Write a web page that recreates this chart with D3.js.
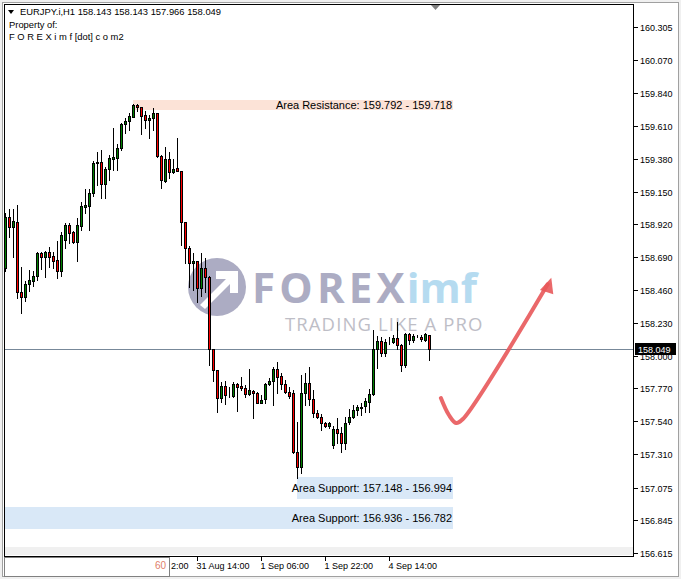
<!DOCTYPE html>
<html><head><meta charset="utf-8">
<script src="https://cdn.jsdelivr.net/npm/d3@7/dist/d3.min.js"></script>
<style>html,body{margin:0;padding:0;background:#f0f0f0;overflow:hidden}</style>
</head><body><svg id="c" width="681" height="579"></svg>
<script>
// ---- data ----
const symbol = "EURJPY.i,H1";
const lastOHLC = [158.143, 158.143, 157.966, 158.049];
const opens = [158.612,158.970,158.902,158.935,158.444,158.413,158.502,158.525,158.558,158.717,
158.694,158.727,158.698,158.670,158.595,158.811,158.916,158.867,158.799,158.911,
159.044,159.051,159.138,159.348,159.359,159.201,159.308,159.378,159.387,159.453,
159.621,159.644,159.675,159.757,159.741,159.687,159.649,159.663,159.698,159.401,
159.226,159.378,159.285,159.313,159.292,158.935,158.752,158.652,158.663,158.472,
158.612,158.553,158.045,157.900,157.701,157.787,157.722,157.720,157.799,157.787,
157.771,157.731,157.752,157.741,157.670,157.694,157.799,157.823,157.905,157.858,
157.799,157.748,157.736,157.323,157.222,157.736,157.806,157.694,157.596,157.572,
157.526,157.507,157.374,157.484,157.456,157.386,157.537,157.572,157.619,157.631,
157.647,157.677,157.731,158.045,158.105,158.017,158.094,158.098,158.122,158.075,
157.935,158.152,158.110,158.135,158.133,158.110,158.143];
const highs = [158.998,159.026,159.028,159.056,158.623,158.525,158.600,158.595,158.729,158.729,
158.736,158.759,158.729,158.806,158.869,158.928,158.932,158.876,158.963,159.079,
159.166,159.166,159.364,159.429,159.441,159.322,159.406,159.593,159.481,159.628,
159.663,159.698,159.762,159.762,159.745,159.715,159.687,159.738,159.700,159.406,
159.464,159.425,159.378,159.523,159.294,158.937,158.771,158.717,158.666,158.717,
158.687,158.558,158.047,157.900,157.818,157.825,157.783,157.818,157.806,157.853,
157.795,157.905,157.759,157.748,157.724,157.806,157.841,157.919,157.958,157.876,
157.830,157.783,157.759,157.537,157.864,157.876,157.919,157.759,157.619,157.591,
157.537,157.537,157.507,157.561,157.502,157.572,157.624,157.654,157.654,157.666,
157.701,157.764,158.180,158.140,158.133,158.117,158.129,158.145,158.236,158.082,
158.161,158.161,158.152,158.147,158.143,158.157,158.143];
const lows = [158.593,158.830,158.691,158.406,158.301,158.385,158.455,158.488,158.530,158.605,
158.553,158.623,158.612,158.542,158.558,158.757,158.792,158.787,158.666,158.881,
158.998,158.881,159.119,159.196,159.103,159.103,159.231,159.301,159.301,159.441,
159.558,159.581,159.673,159.715,159.551,159.593,159.523,159.581,159.394,159.177,
159.219,159.247,159.278,159.292,158.776,158.647,158.483,158.460,158.374,158.418,
158.448,157.935,157.825,157.607,157.677,157.661,157.712,157.712,157.614,157.759,
157.712,157.726,157.561,157.666,157.666,157.666,157.795,157.654,157.736,157.764,
157.736,157.701,157.318,157.140,157.176,157.654,157.654,157.572,157.561,157.479,
157.502,157.491,157.351,157.390,157.327,157.344,157.521,157.561,157.584,157.584,
157.607,157.607,157.724,157.912,157.998,157.998,158.082,158.091,158.045,157.895,
157.923,158.082,158.098,158.129,158.105,158.105,157.966];
const closes = [158.970,158.904,158.944,158.444,158.413,158.502,158.530,158.558,158.722,158.694,
158.727,158.689,158.666,158.595,158.846,158.916,158.862,158.797,158.916,159.049,
159.056,159.138,159.348,159.359,159.201,159.308,159.383,159.394,159.453,159.621,
159.644,159.680,159.757,159.741,159.680,159.652,159.668,159.698,159.401,159.229,
159.378,159.285,159.308,159.294,158.935,158.752,158.647,158.666,158.472,158.612,
158.553,158.045,157.900,157.701,157.787,157.722,157.726,157.799,157.783,157.771,
157.731,157.759,157.741,157.670,157.689,157.801,157.825,157.905,157.853,157.799,
157.748,157.720,157.323,157.222,157.736,157.806,157.694,157.596,157.572,157.526,
157.507,157.526,157.484,157.456,157.386,157.530,157.572,157.619,157.638,157.643,
157.684,157.731,158.045,158.105,158.017,158.098,158.098,158.122,158.075,157.935,
158.152,158.110,158.138,158.138,158.115,158.152,158.049];
const priceTicks = [160.305,160.070,159.840,159.610,159.380,159.150,158.920,158.690,158.460,158.230,158.000,157.770,157.540,157.310,157.075,156.845,156.615];
const timeTickIndex = [32, 48, 64, 80, 96];
// first label is mostly hidden behind the period box; only its tail "2:00" shows
const timeTickLabels = ["2:00","31 Aug 14:00","1 Sep 06:00","1 Sep 22:00","4 Sep 14:00"];
const zoneLabels = ["Area Resistance: 159.792 - 159.718","Area Support: 157.148 - 156.994","Area Support: 156.936 - 156.782"];
const zoneHigh = [159.792, 157.148, 156.936];
const zoneLow = [159.718, 156.994, 156.782];
const zoneStart = [32, 73, -1];
const zoneEnd = 112;
const arrowIdx = [108.9, 110.9, 112.7, 114.4, 135.6];
const arrowPrice = [157.703, 157.584, 157.528, 157.556, 158.500];

// ---- layout ----
const W = 681, H = 579;
const PL = 4, PR = 633, PT = 4, PB = 556;
const svg = d3.select("#c");
const x = d3.scaleLinear().domain([0, opens.length - 1]).range([5.3, 5.3 + 4 * (opens.length - 1)]);
const y = d3.scaleLinear().domain([156.615, 160.305]).range([553.3, 26.7]);
const cx = i => Math.round(x(i));
const cy = v => Math.round(y(v));
const font = "'Liberation Sans', Arial, sans-serif";
const logoFont = "'Open Sans', 'DejaVu Sans', sans-serif";

// window background
svg.append("rect").attr("x",0).attr("y",0).attr("width",W).attr("height",H).attr("fill","#f0f0f0");
svg.append("rect").attr("x",2.5).attr("y",2.5).attr("width",W-5).attr("height",H-5).attr("fill","#ffffff").attr("stroke","#a0a0a0");
// plot area
svg.append("rect").attr("x",PL+0.5).attr("y",PT+0.5).attr("width",PR-PL).attr("height",PB-PT).attr("fill","#ffffff").attr("stroke","#000");
svg.append("rect").attr("x",PL+1).attr("y",547).attr("width",PR-PL-1).attr("height",8).attr("fill","#f0f0f0");

// watermark logo
const logo = svg.append("g").attr("opacity",0.85);
logo.append("circle").attr("cx",217).attr("cy",287).attr("r",29).attr("fill","#9e9eb9");
logo.append("path").attr("d","M200,305 L226,279 L216,279 L216,271 L238,271 L238,293 L230,293 L230,284 L205,309 Z").attr("fill","#ffffff");
const fx = logo.append("text").attr("x",252).attr("y",303).attr("font-family",logoFont).attr("font-weight",700).attr("font-size",42).attr("fill","#9e9eb9").attr("letter-spacing",4.2).text("FOREX");
const fxEnd = 252 + fx.node().getComputedTextLength();
logo.append("text").attr("x",Math.max(fxEnd - 2, 400)).attr("y",303).attr("font-family",logoFont).attr("font-weight",700).attr("font-size",42).attr("fill","#a9d5ee").text("imf");
logo.append("text").attr("x",285).attr("y",331).attr("font-family",logoFont).attr("font-weight",400).attr("font-size",18.5).attr("fill","#b3b3bd").attr("letter-spacing",1.1).text("TRADING LIKE A PRO");

// zones
zoneLabels.forEach((lab, k) => {
  const x0 = zoneStart[k] < 0 ? PL + 1 : cx(zoneStart[k]);
  const x1 = cx(zoneEnd);
  const y0 = cy(zoneHigh[k]), y1 = cy(zoneLow[k]);
  svg.append("rect").attr("x",x0).attr("y",y0).attr("width",x1-x0).attr("height",y1-y0)
     .attr("fill", k === 0 ? "#fce3d7" : "#d9e8f7");
  svg.append("text").attr("x",x1-1).attr("y",(y0+y1)/2+4).attr("text-anchor","end")
     .attr("font-family",font).attr("font-size",11).attr("fill","#000").text(lab);
});

// current price line
const lastClose = lastOHLC[3];
svg.append("line").attr("x1",PL+1).attr("x2",PR).attr("y1",cy(lastClose)+0.5).attr("y2",cy(lastClose)+0.5).attr("stroke","#778899");

// candles
const g = svg.append("g");
opens.forEach((o, i) => {
  const c = closes[i], X = cx(i);
  g.append("line").attr("x1",X+0.5).attr("x2",X+0.5).attr("y1",cy(highs[i])).attr("y2",cy(lows[i])+1).attr("stroke","#000");
  const top = cy(Math.max(o,c)), bot = cy(Math.min(o,c));
  g.append("rect").attr("x",X-0.5).attr("y",top+0.5).attr("width",2).attr("height",Math.max(bot-top,0))
    .attr("fill", c >= o ? "#008000" : "#ff0000").attr("stroke","#000");
});

// check-mark arrow annotation
const arrowLine = d3.line().curve(d3.curveCatmullRom).x(d => x(d[0])).y(d => y(d[1]));
const apts = arrowIdx.map((a, k) => [a, arrowPrice[k]]);
svg.append("path").attr("d", arrowLine(apts)).attr("fill","none").attr("stroke","#e8585a").attr("stroke-width",4).attr("stroke-linecap","round").attr("opacity",0.9);
{
  const tip = [x(136.5), y(158.545)];
  const ang = Math.atan2(y(158.545) - y(158.40), x(136.5) - x(134.8));
  const L = 15, Wd = 7;
  const bx = tip[0] - L*Math.cos(ang), by = tip[1] - L*Math.sin(ang);
  const p1 = [bx + Wd*Math.sin(ang), by - Wd*Math.cos(ang)], p2 = [bx - Wd*Math.sin(ang), by + Wd*Math.cos(ang)];
  svg.append("path").attr("d",`M${tip}L${p1}L${p2}Z`).attr("fill","#e8585a").attr("opacity",0.9);
}

// right price axis
svg.append("line").attr("x1",PR+0.5).attr("x2",PR+0.5).attr("y1",PT).attr("y2",PB+1).attr("stroke","#000");
const ya = svg.append("g").attr("font-family",font).attr("font-size",9);
priceTicks.forEach(t => {
  const Y = cy(t) + 0.5;
  ya.append("line").attr("x1",PR+1).attr("x2",PR+5).attr("y1",Y).attr("y2",Y).attr("stroke","#000");
  ya.append("text").attr("x",640).attr("y",Y+3.5).attr("fill","#000").text(t.toFixed(3));
});
// current price label
svg.append("rect").attr("x",635).attr("y",cy(lastClose)-6).attr("width",41).attr("height",12).attr("fill","#000");
svg.append("text").attr("x",638).attr("y",cy(lastClose)+4).attr("font-family",font).attr("font-size",9).attr("fill","#fff").text(lastClose.toFixed(3));

// bottom time axis
const xa = svg.append("g").attr("font-family",font).attr("font-size",9);
timeTickIndex.forEach((ti, k) => {
  const X = cx(ti) + 0.5;
  xa.append("line").attr("x1",X).attr("x2",X).attr("y1",PB+1).attr("y2",PB+5).attr("stroke","#000");
  if (k === 0) {
    xa.append("text").attr("x",171).attr("y",569).attr("fill","#000").text(timeTickLabels[k]);
  } else {
    xa.append("text").attr("x",X-1).attr("y",569).attr("fill","#000").text(timeTickLabels[k]);
  }
});
// period box
svg.append("rect").attr("x",4.5).attr("y",557.5).attr("width",165).attr("height",19).attr("fill","#fff").attr("stroke","#808080");
svg.append("text").attr("x",166).attr("y",569).attr("text-anchor","end").attr("font-family",font).attr("font-size",10).attr("fill","#e0806a").text("60");

// header
const hd = svg.append("g").attr("font-family",font).attr("font-size",9.4).attr("fill","#000");
hd.append("path").attr("d","M8,10 L14,10 L11,14 Z").attr("fill","#000");
hd.append("text").attr("x",20).attr("y",15).text(symbol + "  " + lastOHLC.map(v => v.toFixed(3)).join(" "));
hd.append("text").attr("x",9).attr("y",28).text("Property of:");
hd.append("text").attr("x",9).attr("y",40).text("F O R E X i m f [dot] c o m2");
// shift marker
svg.append("path").attr("d","M431,5 L440,5 L435.5,10 Z").attr("fill","#808080");
</script></body></html>
